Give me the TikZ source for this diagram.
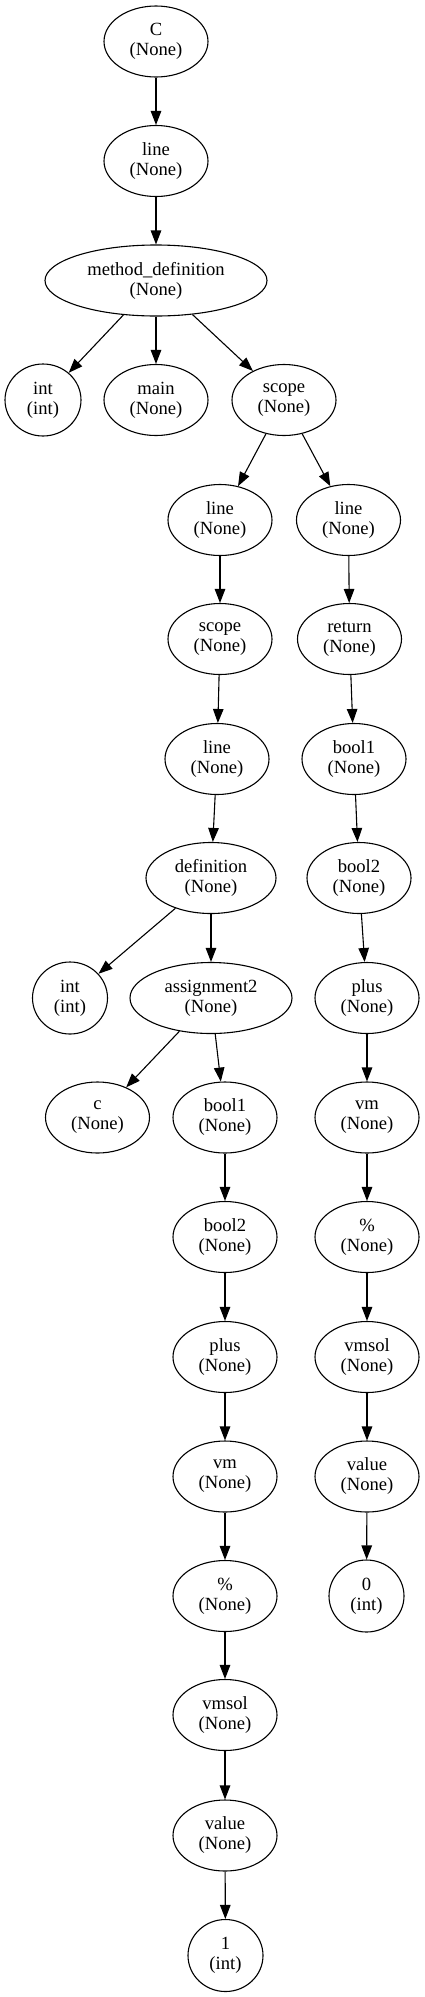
\documentclass[tikz,border=0pt]{standalone}
\usepackage{fontspec}
\setmainfont{Liberation Serif}
\usetikzlibrary{shapes.geometric,arrows.meta}
\begin{document}
\begin{tikzpicture}[x=1pt,y=-1pt,
  nd/.style={draw, ellipse, minimum width=104pt, minimum height=71pt, inner sep=0pt,
    align=center, line width=1.1pt, font=\fontsize{18.6}{20}\selectfont},
  edge/.style={-{Triangle[length=14pt,width=10.5pt]}, line width=1.1pt}]
\useasboundingbox (0,0) rectangle (424,1997);
\node[nd] (C) at (156,41.5) {C\\(None)};
\node[nd] (line1) at (156,161) {line\\(None)};
\node[nd, minimum width=222pt] (md) at (156,280.5) {method\_definition\\(None)};
\node[nd, minimum width=76pt, minimum height=72pt] (int1) at (43,400) {int\\(int)};
\node[nd] (main) at (156,400) {main\\(None)};
\node[nd] (scope1) at (284,400) {scope\\(None)};
\node[nd] (lineL) at (220,520) {line\\(None)};
\node[nd] (lineR) at (348.5,520) {line\\(None)};
\node[nd] (scope2) at (220,639) {scope\\(None)};
\node[nd] (ret) at (349.5,639) {return\\(None)};
\node[nd] (line3) at (217,759) {line\\(None)};
\node[nd] (b1R) at (354,759) {bool1\\(None)};
\node[nd, minimum width=130pt] (def) at (211,878) {definition\\(None)};
\node[nd] (b2R) at (359,878) {bool2\\(None)};
\node[nd, minimum width=75pt, minimum height=72pt] (int2) at (70,998) {int\\(int)};
\node[nd, minimum width=162pt] (asg) at (211,998) {assignment2\\(None)};
\node[nd] (plusR) at (367,998) {plus\\(None)};
\node[nd] (c) at (97.5,1117.5) {c\\(None)};
\node[nd] (b1L) at (225,1117.5) {bool1\\(None)};
\node[nd] (vmR) at (367,1117.5) {vm\\(None)};
\node[nd] (b2L) at (225,1237) {bool2\\(None)};
\node[nd] (pctR) at (367,1237) {\%\\(None)};
\node[nd] (plusL) at (225,1357) {plus\\(None)};
\node[nd] (vmsolR) at (367,1357) {vmsol\\(None)};
\node[nd] (vmL) at (225,1476.5) {vm\\(None)};
\node[nd] (valR) at (367,1476.5) {value\\(None)};
\node[nd] (pctL) at (225,1596) {\%\\(None)};
\node[nd, minimum width=75pt, minimum height=72pt] (zero) at (366.5,1596) {0\\(int)};
\node[nd] (vmsolL) at (225,1715) {vmsol\\(None)};
\node[nd] (valL) at (225,1835.5) {value\\(None)};
\node[nd, minimum width=75pt, minimum height=72pt] (one) at (225.5,1955.5) {1\\(int)};
\draw[edge] (C) -- (line1);
\draw[edge] (line1) -- (md);
\draw[edge] (md) -- (int1);
\draw[edge] (md) -- (main);
\draw[edge] (md) -- (scope1);
\draw[edge] (scope1) -- (lineL);
\draw[edge] (scope1) -- (lineR);
\draw[edge] (lineL) -- (scope2);
\draw[edge] (lineR) -- (ret);
\draw[edge] (scope2) -- (line3);
\draw[edge] (ret) -- (b1R);
\draw[edge] (line3) -- (def);
\draw[edge] (b1R) -- (b2R);
\draw[edge] (def) -- (int2);
\draw[edge] (def) -- (asg);
\draw[edge] (b2R) -- (plusR);
\draw[edge] (asg) -- (c);
\draw[edge] (asg) -- (b1L);
\draw[edge] (plusR) -- (vmR);
\draw[edge] (b1L) -- (b2L);
\draw[edge] (vmR) -- (pctR);
\draw[edge] (b2L) -- (plusL);
\draw[edge] (pctR) -- (vmsolR);
\draw[edge] (plusL) -- (vmL);
\draw[edge] (vmsolR) -- (valR);
\draw[edge] (vmL) -- (pctL);
\draw[edge] (valR) -- (zero);
\draw[edge] (pctL) -- (vmsolL);
\draw[edge] (vmsolL) -- (valL);
\draw[edge] (valL) -- (one);
\end{tikzpicture}
\end{document}
